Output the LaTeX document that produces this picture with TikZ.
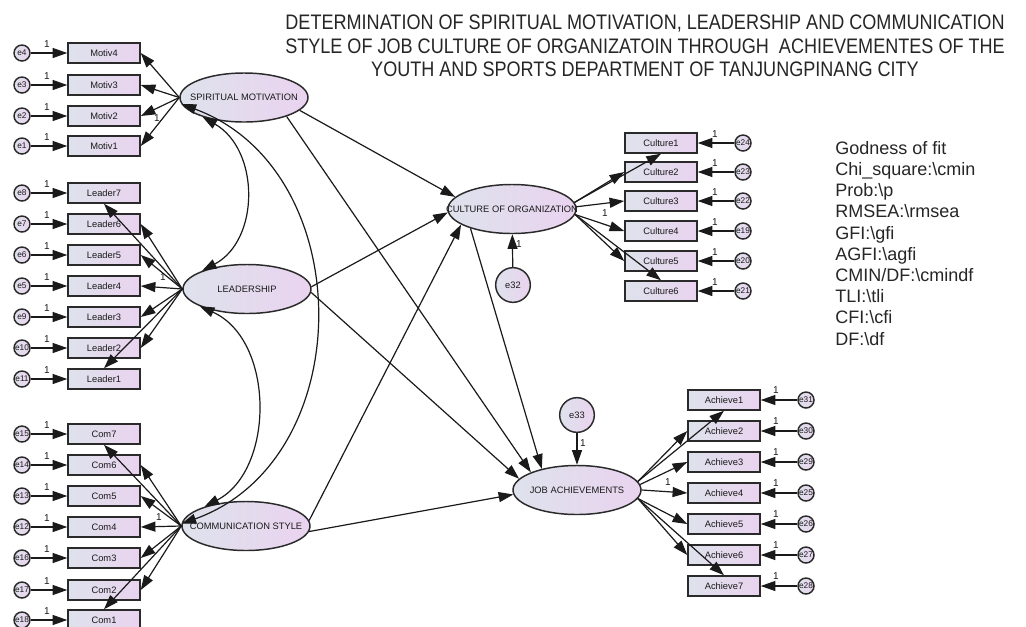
\documentclass[tikz,border=0pt]{standalone}
\usepackage{fontspec}
\setmainfont{Liberation Sans}
\newfontfamily\titlefont[FakeStretch=0.86]{Liberation Sans}
\usetikzlibrary{arrows.meta,shapes.geometric}
\definecolor{fillL}{HTML}{DEE2EC}
\definecolor{fillR}{HTML}{EAD3EF}
\definecolor{edge}{HTML}{2A2A2A}
\definecolor{ink}{HTML}{1A1A1A}
\begin{document}
\begin{tikzpicture}[x=0.75pt,y=-0.75pt,
  obs/.style={draw=edge, line width=1.1pt, rectangle, minimum width=54pt, minimum height=15pt,
    inner sep=0pt, left color=fillL, right color=fillR, font=\fontsize{7}{8}\selectfont, text=ink},
  lat/.style={draw=edge, line width=1.1pt, ellipse, minimum width=96pt, minimum height=36.75pt,
    inner sep=0pt, left color=fillL, right color=fillR},
  lattext/.style={font=\fontsize{7}{8}\selectfont, text=ink, inner sep=0pt},
  err/.style={draw=edge, line width=1.1pt, circle, minimum size=12pt, inner sep=0pt,
    left color=fillL, right color=fillR, font=\fontsize{6.2}{7}\selectfont, text=ink},
  bigerr/.style={err, minimum size=26pt, font=\fontsize{7}{8}\selectfont},
  reg/.style={-{Triangle[length=11pt,width=7.5pt]}, line width=0.9pt, draw=ink},
  cov/.style={{Triangle[length=11pt,width=7.5pt]}-{Triangle[length=11pt,width=7.5pt]}, line width=0.9pt, draw=ink},
  one/.style={font=\fontsize{7.5}{8}\selectfont, inner sep=0pt, text=ink},
  titlestyle/.style={font=\titlefont\fontsize{15.75}{17.6}\selectfont, align=center, text=black!85, inner sep=0pt},
  fitstyle/.style={font=\fontsize{13.5}{15.9}\selectfont, align=left, text=black!85, inner sep=0pt}
]
\useasboundingbox (0,0) rectangle (1026,626);
\fill[white] (0,0) rectangle (1026,626);

% title
\node[titlestyle] (title) at (645,46) {DETERMINATION OF SPIRITUAL MOTIVATION, LEADERSHIP AND COMMUNICATION\\
STYLE OF JOB CULTURE OF ORGANIZATOIN THROUGH\ \ ACHIEVEMENTES OF THE\\
YOUTH AND SPORTS DEPARTMENT OF TANJUNGPINANG CITY};

% fit text
\node[fitstyle, anchor=north west] (fit) at (835,141) {Godness of fit\\
Chi\_square:\textbackslash cmin\\
Prob:\textbackslash p\\
RMSEA:\textbackslash rmsea\\
GFI:\textbackslash gfi\\
AGFI:\textbackslash agfi\\
CMIN/DF:\textbackslash cmindf\\
TLI:\textbackslash tli\\
CFI:\textbackslash cfi\\
DF:\textbackslash df};

% latent variables
\node[lat, label={[lattext]center:SPIRITUAL MOTIVATION}] (sm) at (244,97.5) {};
\node[lat, label={[lattext]center:LEADERSHIP}] (ld) at (247,289) {};
\node[lat, label={[lattext]center:COMMUNICATION STYLE}] (cs) at (246,526) {};
\node[lat, label={[lattext]center:CULTURE OF ORGANIZATION}] (co) at (512,209) {};
\node[lat, label={[lattext]center:JOB ACHIEVEMENTS}] (ja) at (577,490) {};
\node[bigerr] (e32) at (513,285) {e32};
\node[bigerr] (e33) at (577,415) {e33};

% left indicators
\foreach \n/\t/\y/\e in {m4/Motiv4/53/e4, m3/Motiv3/85/e3, m2/Motiv2/116/e2, m1/Motiv1/146/e1,
  l7/Leader7/193/e8, l6/Leader6/224/e7, l5/Leader5/255/e6, l4/Leader4/286/e5, l3/Leader3/317/e9, l2/Leader2/348/e10, l1/Leader1/379/e11,
  c7/Com7/434/e15, c6/Com6/465/e14, c5/Com5/496/e13, c4/Com4/527/e12, c3/Com3/558/e16, c2/Com2/590/e17, c1/Com1/620/e18}{
  \node[obs] (\n) at (104,\y) {\t};
  \node[err] (err\n) at (22,\y) {\e};
  \draw[reg] (err\n) -- (\n);
  \node[one] (one\n) at (47,\y-9) {1};
}

% culture indicators
\foreach \n/\t/\y/\e in {cu1/Culture1/143/e24, cu2/Culture2/172/e23, cu3/Culture3/201/e22, cu4/Culture4/231/e19, cu5/Culture5/261/e20, cu6/Culture6/291/e21}{
  \node[obs] (\n) at (661,\y) {\t};
  \node[err] (err\n) at (743,\y) {\e};
  \draw[reg] (err\n) -- (\n);
  \node[one] (one\n) at (715,\y-9) {1};
}

% achievement indicators
\foreach \n/\t/\y/\e in {a1/Achieve1/400/e31, a2/Achieve2/431/e30, a3/Achieve3/462/e29, a4/Achieve4/493/e25, a5/Achieve5/524/e26, a6/Achieve6/555/e27, a7/Achieve7/586/e28}{
  \node[obs] (\n) at (724,\y) {\t};
  \node[err] (err\n) at (806,\y) {\e};
  \draw[reg] (err\n) -- (\n);
  \node[one] (one\n) at (776,\y-10) {1};
}

% loadings: spiritual motivation
\foreach \n in {m4,m3,m2,m1} \draw[reg] (sm.west) -- (\n.east);
% leadership
\draw[reg] (ld.west) -- (l7.south);
\foreach \n in {l6,l5,l4,l3,l2} \draw[reg] (ld.west) -- (\n.east);
\draw[reg] (ld.west) -- (l1.north);
% communication
\draw[reg] (cs.west) -- (c7.south);
\foreach \n in {c6,c5,c4,c3,c2} \draw[reg] (cs.west) -- (\n.east);
\draw[reg] (cs.west) -- (c1.north);
% culture
\draw[reg] (co.6) -- (cu1.south);
\draw[reg] (co.6) -- (cu2.west);
\draw[reg] (co.2) -- (cu3.west);
\draw[reg] (co.-5) -- (cu4.west);
\draw[reg] (co.-5) -- (cu5.west);
\draw[reg] (co.-5) -- (cu6.north);
% achievements
\draw[reg] (ja.8) -- (a1.south);
\draw[reg] (ja.8) -- (a2.west);
\draw[reg] (ja.5) -- (a3.west);
\draw[reg] (ja.east) -- (a4.west);
\draw[reg] (ja.-8) -- (a5.west);
\draw[reg] (ja.-8) -- (a6.west);
\draw[reg] (ja.-8) -- (a7.north);

% errors of endogenous
\draw[reg] (e32) -- (co);
\draw[reg] (e33) -- (ja);

% structural paths
\draw[reg] (sm.-13) -- (co.168);
\draw[reg] (sm.-24) -- (ja.159);
\draw[reg] (ld.2) -- (co.183);
\draw[reg] (ld.-3) -- (ja.169);
\draw[reg] (cs.5) -- (co.197);
\draw[reg] (cs.-5) -- (ja.184);
\draw[reg] (co.205) -- (ja.149);

% covariances
\draw[cov] (sm.205) .. controls (260,150) and (260,240) .. (ld.158);
\draw[cov] (ld.200) .. controls (275,340) and (275,470) .. (cs.155);
\draw[cov] (sm.186) .. controls (360,170) and (360,460) .. (cs.178);

% fixed loadings
\node[one] (fm2) at (157,118) {1};
\node[one] (fl4) at (163,277) {1};
\node[one] (fc4) at (159,517) {1};
\node[one] (fcu) at (605,213) {1};
\node[one] (fa4) at (668,482) {1};
\node[one] (f32) at (519,244) {1};
\node[one] (f33) at (583,443) {1};
\end{tikzpicture}
\end{document}
